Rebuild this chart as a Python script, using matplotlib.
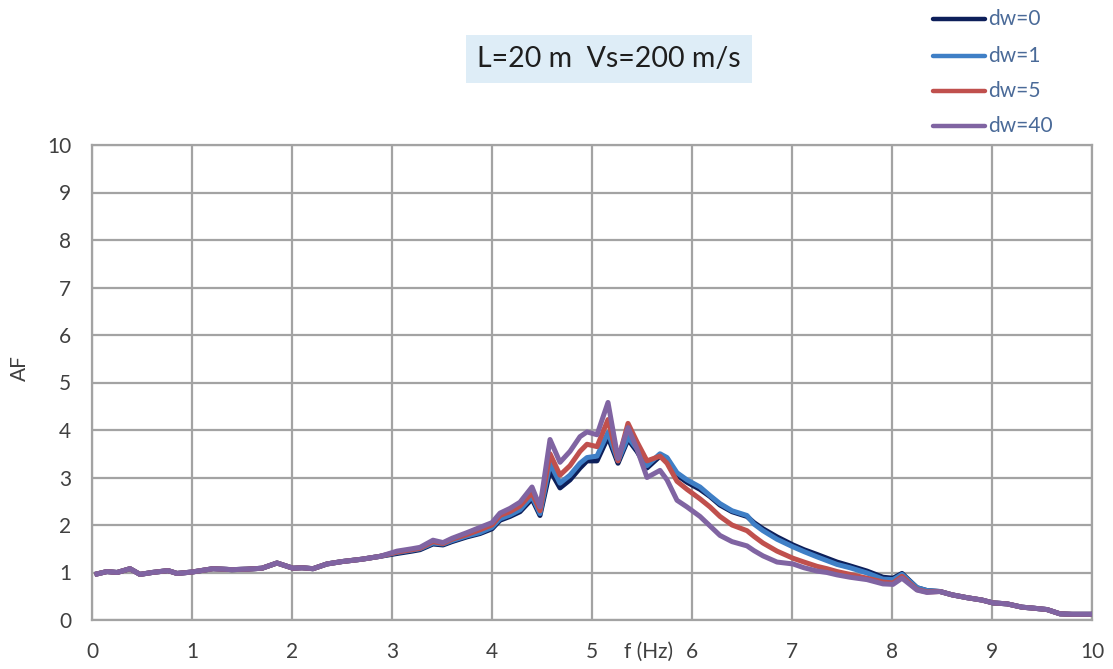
import matplotlib
matplotlib.use("Agg")
import matplotlib.pyplot as plt
from matplotlib.lines import Line2D

# Frequency samples (Hz)
freq = [0.05, 0.15, 0.25, 0.38, 0.48, 0.6, 0.76, 0.85, 1.0, 1.21, 1.4, 1.55, 1.7, 1.85,
        2.01, 2.1, 2.21, 2.35, 2.5, 2.7, 2.88, 3.05, 3.2, 3.28, 3.41, 3.51, 3.6, 3.75,
        3.88, 4.0, 4.08, 4.18, 4.28, 4.40, 4.48, 4.58, 4.68, 4.78, 4.88, 4.95, 5.05,
        5.16, 5.26, 5.36, 5.45, 5.55, 5.68, 5.75, 5.85, 5.95, 6.08, 6.18, 6.28, 6.4,
        6.55, 6.62, 6.71, 6.85, 7.01, 7.12, 7.25, 7.35, 7.45, 7.58, 7.75, 7.91, 8.01,
        8.1, 8.25, 8.35, 8.48, 8.6, 8.75, 8.9, 9.01, 9.15, 9.3, 9.41, 9.55, 9.68, 9.8, 10.0]

# Shared low-frequency part (0.05 .. 2.88 Hz)
low = [0.97, 1.02, 1.0, 1.08, 0.96, 1.0, 1.04, 0.98, 1.01, 1.08, 1.06, 1.07, 1.09, 1.2,
       1.09, 1.1, 1.08, 1.18, 1.23, 1.28, 1.34]

# Shared high-frequency tail (8.25 .. 10 Hz)
tail = [0.68, 0.62, 0.6, 0.53, 0.47, 0.42, 0.36, 0.34, 0.27, 0.25, 0.22, 0.13, 0.12, 0.12]

af_dw0 = low + [1.40, 1.45, 1.48, 1.60, 1.58, 1.65, 1.75, 1.82, 1.92, 2.10, 2.18, 2.28,
                2.55, 2.20, 3.15, 2.78, 2.95, 3.20, 3.35, 3.35, 3.85, 3.30, 3.80, 3.55,
                3.20, 3.45, 3.40, 3.05, 2.90, 2.75, 2.60, 2.42, 2.28, 2.18, 2.05, 1.92,
                1.75, 1.58, 1.48, 1.38, 1.30, 1.22, 1.14, 1.03, 0.90, 0.88, 0.98] + tail

af_dw1 = low + [1.42, 1.47, 1.50, 1.62, 1.60, 1.67, 1.77, 1.84, 1.95, 2.13, 2.21, 2.32,
                2.60, 2.24, 3.30, 2.88, 3.05, 3.30, 3.42, 3.45, 3.95, 3.35, 3.85, 3.60,
                3.25, 3.50, 3.42, 3.10, 2.95, 2.80, 2.62, 2.45, 2.30, 2.20, 2.02, 1.88,
                1.70, 1.54, 1.44, 1.33, 1.25, 1.17, 1.10, 0.99, 0.86, 0.85, 0.96] + tail

af_dw5 = low + [1.43, 1.48, 1.51, 1.65, 1.61, 1.70, 1.80, 1.90, 2.00, 2.20, 2.28, 2.40,
                2.68, 2.30, 3.50, 3.05, 3.25, 3.55, 3.70, 3.65, 4.22, 3.35, 4.14, 3.75,
                3.35, 3.45, 3.30, 2.92, 2.75, 2.55, 2.38, 2.18, 2.00, 1.88, 1.76, 1.62,
                1.45, 1.30, 1.22, 1.13, 1.08, 1.02, 0.96, 0.88, 0.80, 0.78, 0.92] + \
         [0.64, 0.59] + tail[2:]

af_dw40 = low + [1.45, 1.50, 1.53, 1.68, 1.63, 1.72, 1.84, 1.95, 2.05, 2.25, 2.35, 2.48,
                 2.80, 2.38, 3.80, 3.32, 3.55, 3.86, 3.96, 3.90, 4.58, 3.40, 4.05, 3.60,
                 3.00, 3.15, 2.95, 2.52, 2.38, 2.18, 1.98, 1.78, 1.65, 1.56, 1.46, 1.35,
                 1.22, 1.18, 1.10, 1.03, 1.00, 0.95, 0.90, 0.85, 0.76, 0.75, 0.88] + \
          [0.63, 0.58] + tail[2:]

series = [("dw=0", af_dw0, "#0d1f5a"),
          ("dw=1", af_dw1, "#3f7fc6"),
          ("dw=5", af_dw5, "#c0504d"),
          ("dw=40", af_dw40, "#8064a2")]

x_ticks = list(range(0, 11))
y_ticks = list(range(0, 11))

plt.rcParams['font.family'] = ['Lato', 'DejaVu Sans']

W, H = 1113, 669
fig = plt.figure(figsize=(W / 100, H / 100), dpi=100)
ax = fig.add_axes([92 / W, 49 / H, 1000 / W, 475 / H])

for name, vals, col in series:
    ax.plot(freq, vals, color=col, lw=3.6, solid_joinstyle='round', zorder=3)

ax.set_xlim(0, 10)
ax.set_ylim(0, 10)
ax.set_xticks(x_ticks)
ax.set_yticks(y_ticks)
ax.grid(True, color="#a3a3a3", lw=1.6)
ax.set_axisbelow(True)
for s in ax.spines.values():
    s.set_color("#a3a3a3")
    s.set_linewidth(1.6)
ax.tick_params(length=0, labelsize=15, labelcolor="#404040")
ax.tick_params(axis='y', pad=15)
ax.tick_params(axis='x', pad=16)

ax.set_ylabel("AF", fontsize=15, color="#404040", va='center')
ax.yaxis.set_label_coords(-72 / 1000, (620 - 368) / 475)
ax.set_xlabel("f (Hz)", fontsize=15, color="#404040", va='center')
ax.xaxis.set_label_coords(0.557, -0.067)

# Title box
fig.text(609 / W, 1 - 59 / H, "L=20 m  Vs=200 m/s", fontsize=20.5, color="#1e1e1e",
         ha='center', va='center',
         bbox=dict(boxstyle='square,pad=0.4', fc="#deedf7", ec='none'))

# Legend, drawn as a column of line samples with labels
row_y = [19, 56, 91, 126]
for (name, _, col), yy in zip(series, row_y):
    fy = 1 - yy / H
    fig.add_artist(Line2D([933 / W, 985 / W], [fy, fy], color=col, lw=3.2,
                          solid_capstyle='round', transform=fig.transFigure))
    fig.text(988 / W, fy, name, fontsize=15, color="#4a6a98", ha='left', va='center')

fig.savefig("out.png", dpi=100)
